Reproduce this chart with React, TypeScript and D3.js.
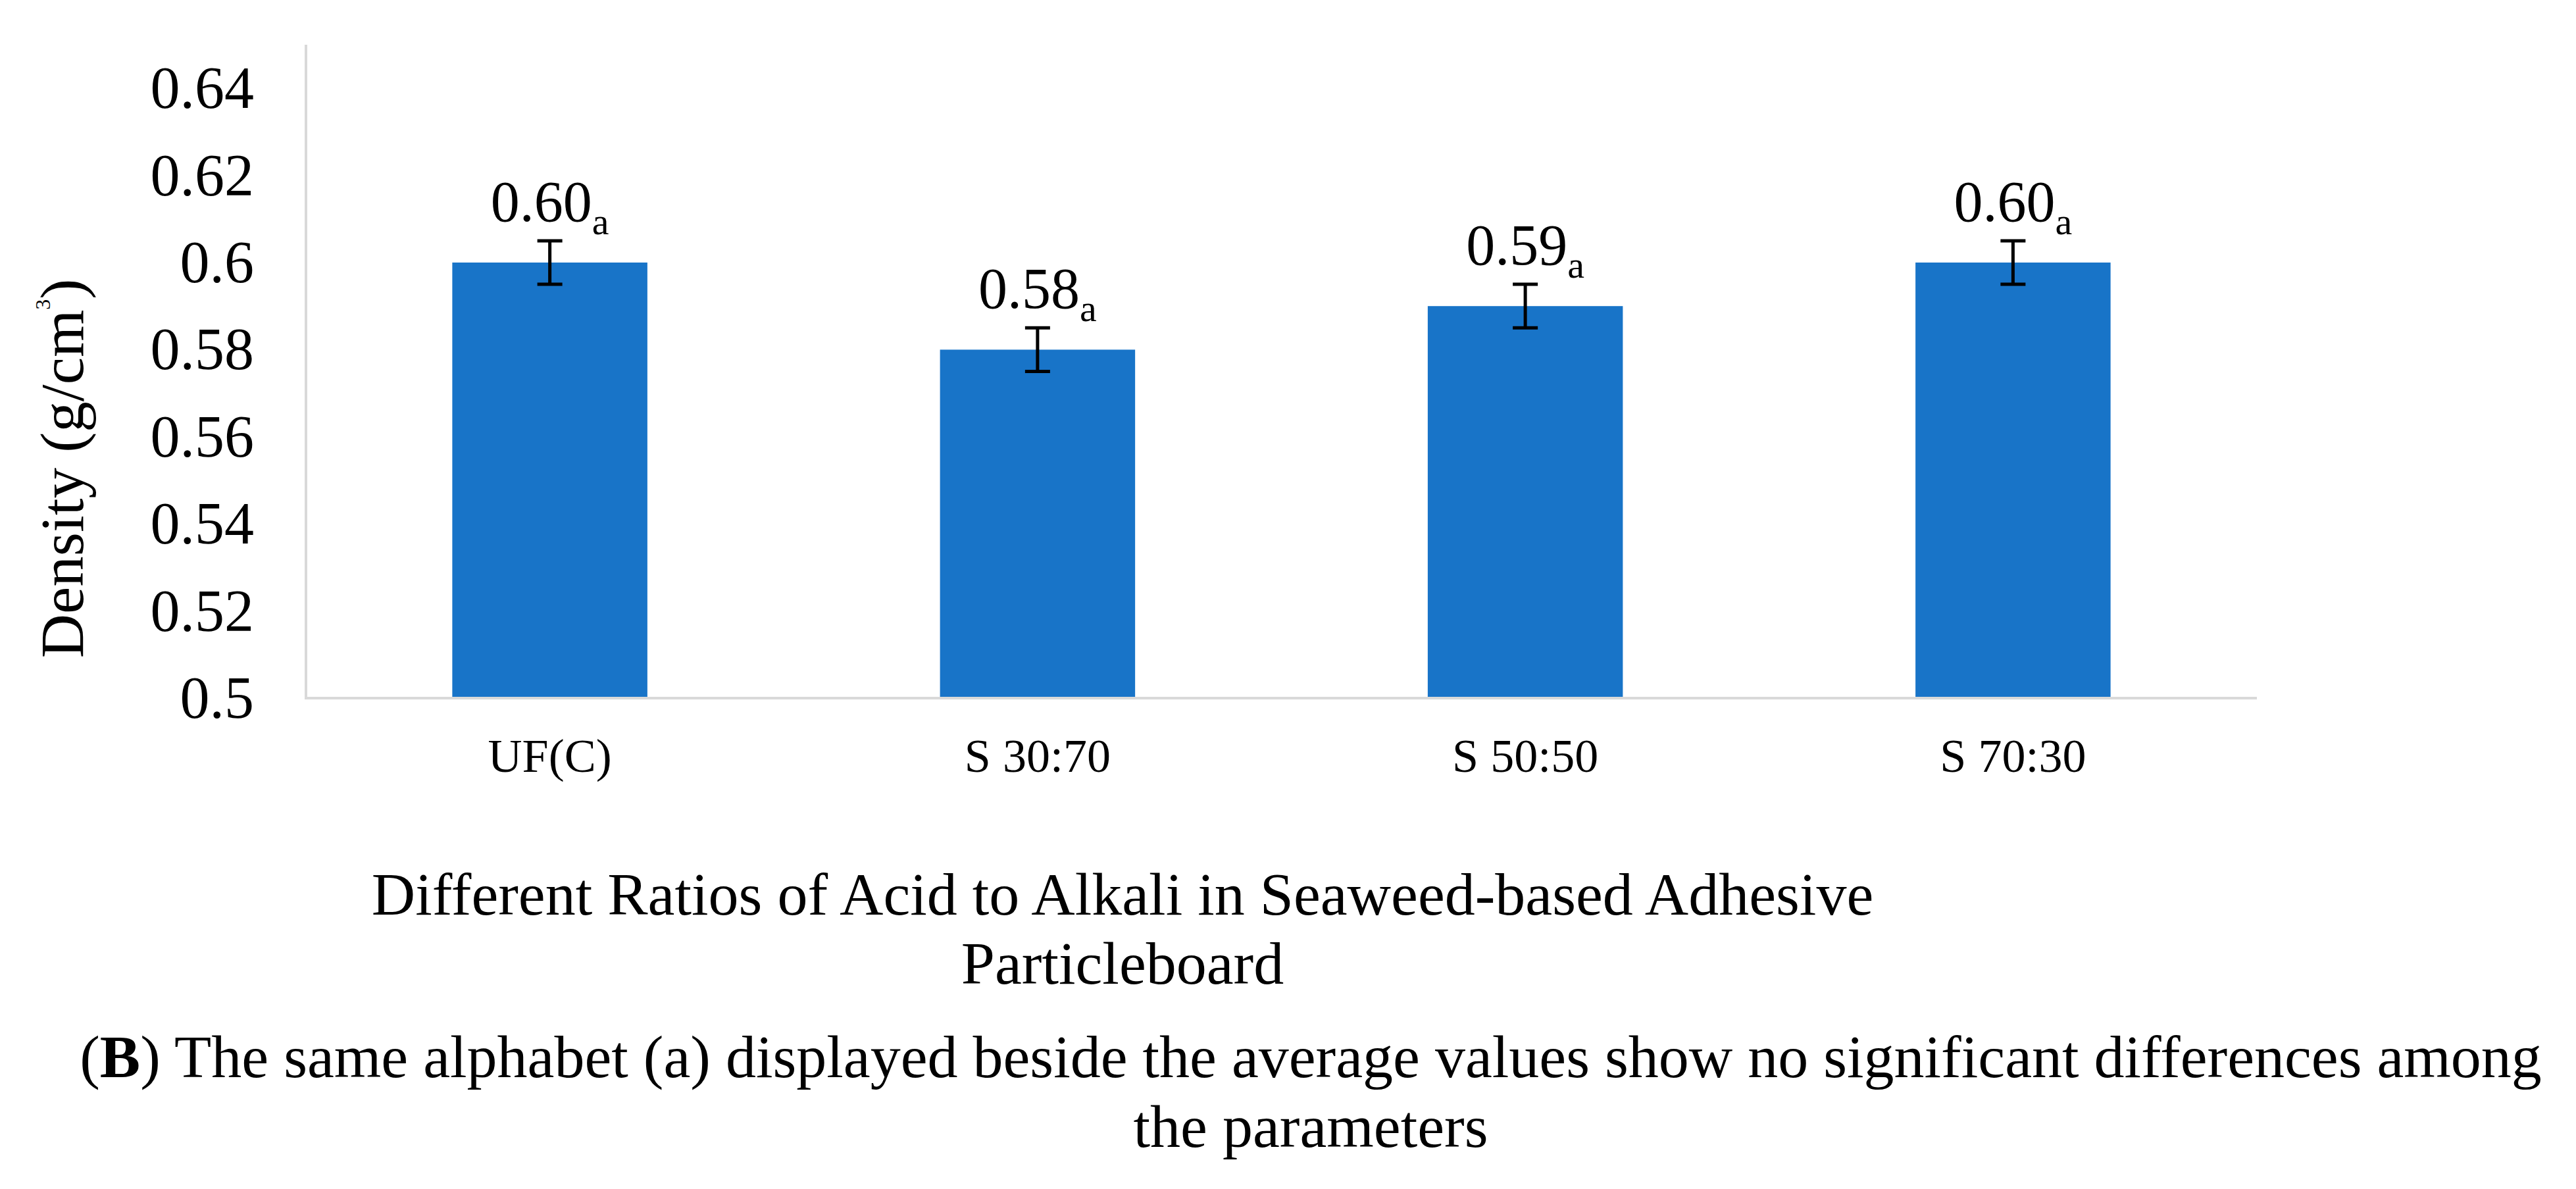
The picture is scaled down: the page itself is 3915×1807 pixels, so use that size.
import React, { useEffect, useRef } from 'react';
import * as d3 from 'd3';

// values
const categories = ['UF(C)', 'S 30:70', 'S 50:50', 'S 70:30'];
const density = [0.6, 0.58, 0.59, 0.6];
const errors = [0.005, 0.005, 0.005, 0.005];
const valueLabels = ['0.60', '0.58', '0.59', '0.60'];
const groupLetters = ['a', 'a', 'a', 'a'];
const yTicks = [0.5, 0.52, 0.54, 0.56, 0.58, 0.6, 0.62, 0.64];
const xTitleLines = ['Different Ratios of Acid to Alkali in Seaweed-based Adhesive', 'Particleboard'];
const captionRest = ' The same alphabet (a) displayed beside the average values show no significant differences among';
const captionLine2 = 'the parameters';

const FONT = '"Liberation Serif", "Times New Roman", serif';

const App: React.FC = () => {
  const svgRef = useRef<SVGSVGElement | null>(null);
  const width = 3915;
  const height = 1807;

  useEffect(() => {
    if (!svgRef.current) return;
    const svg = d3.select(svgRef.current);
    svg.selectAll('*').remove();

    const plot = { left: 465, right: 3430, top: 68, bottom: 1061 };

    const x = d3.scaleBand<string>()
      .domain(categories)
      .range([plot.left, plot.right])
      .paddingInner(0.6)
      .paddingOuter(0.3);

    const y = d3.scaleLinear()
      .domain([0.5, 0.65])
      .range([plot.bottom, plot.top]);

    svg.append('rect').attr('width', width).attr('height', height).attr('fill', '#fff');

    const g = svg.append('g').style('font-family', FONT).attr('fill', '#000');

    // y axis line (light grey, Excel style)
    g.append('line')
      .attr('x1', plot.left).attr('x2', plot.left)
      .attr('y1', plot.top).attr('y2', plot.bottom)
      .attr('stroke', '#d9d9d9').attr('stroke-width', 4);

    // y tick labels
    g.selectAll('text.ytick')
      .data(yTicks)
      .enter()
      .append('text')
      .attr('class', 'ytick')
      .attr('x', 386)
      .attr('y', d => y(d) + 30)
      .attr('text-anchor', 'end')
      .style('font-size', '90px')
      .text(d => String(d));

    const data = categories.map((c, i) => ({
      cat: c, v: density[i], err: errors[i], label: valueLabels[i], letter: groupLetters[i],
    }));

    // bars
    g.selectAll('rect.bar')
      .data(data)
      .enter()
      .append('rect')
      .attr('class', 'bar')
      .attr('x', d => x(d.cat) || 0)
      .attr('y', d => y(d.v))
      .attr('width', x.bandwidth())
      .attr('height', d => y(0.5) - y(d.v))
      .attr('fill', '#1874C8');

    g.append('line')
      .attr('x1', plot.left - 2).attr('x2', plot.right)
      .attr('y1', plot.bottom).attr('y2', plot.bottom)
      .attr('stroke', '#d9d9d9').attr('stroke-width', 4);

    // error bars
    const eb = g.selectAll('g.err')
      .data(data)
      .enter()
      .append('g')
      .attr('class', 'err')
      .attr('stroke', '#000')
      .attr('stroke-width', 5);
    const cx = (d: { cat: string }) => (x(d.cat) || 0) + x.bandwidth() / 2;
    eb.append('line')
      .attr('x1', cx).attr('x2', cx)
      .attr('y1', d => y(d.v + d.err)).attr('y2', d => y(d.v - d.err));
    eb.append('line')
      .attr('x1', d => cx(d) - 19).attr('x2', d => cx(d) + 19)
      .attr('y1', d => y(d.v + d.err)).attr('y2', d => y(d.v + d.err));
    eb.append('line')
      .attr('x1', d => cx(d) - 19).attr('x2', d => cx(d) + 19)
      .attr('y1', d => y(d.v - d.err)).attr('y2', d => y(d.v - d.err));

    // value labels with subscript letter
    const lbl = g.selectAll('text.val')
      .data(data)
      .enter()
      .append('text')
      .attr('class', 'val')
      .attr('x', cx)
      .attr('y', d => y(d.v + d.err) - 30)
      .attr('text-anchor', 'middle')
      .style('font-size', '88px');
    lbl.append('tspan').text(d => d.label);
    lbl.append('tspan').attr('dy', 20).style('font-size', '58px').text(d => d.letter);

    // x category labels
    g.selectAll('text.xcat')
      .data(categories)
      .enter()
      .append('text')
      .attr('class', 'xcat')
      .attr('x', d => (x(d) || 0) + x.bandwidth() / 2)
      .attr('y', 1173)
      .attr('text-anchor', 'middle')
      .style('font-size', '72px')
      .text(d => d);

    // y axis title
    const yt = g.append('text')
      .attr('transform', 'translate(126,712) rotate(-90)')
      .attr('text-anchor', 'middle')
      .style('font-size', '93px');
    yt.append('tspan').text('Density (g/cm');
    yt.append('tspan').attr('dy', -50).style('font-size', '32px').text('3');
    yt.append('tspan').attr('dy', 50).text(')');

    // x axis title
    g.selectAll('text.xtitle')
      .data(xTitleLines)
      .enter()
      .append('text')
      .attr('class', 'xtitle')
      .attr('x', 1706)
      .attr('y', (_, i) => 1390 + i * 105)
      .attr('text-anchor', 'middle')
      .style('font-size', '92px')
      .text(d => d);

    // caption
    const cap = g.append('text')
      .attr('x', 1992).attr('y', 1637)
      .attr('text-anchor', 'middle')
      .style('font-size', '92px');
    cap.append('tspan').text('(');
    cap.append('tspan').style('font-weight', 'bold').text('B');
    cap.append('tspan').text(')' + captionRest);
    g.append('text')
      .attr('x', 1992).attr('y', 1743)
      .attr('text-anchor', 'middle')
      .style('font-size', '92px')
      .text(captionLine2);
  }, []);

  return (
    <div style={{ position: 'absolute', left: 0, top: 0 }}>
      <svg ref={svgRef} width={width} height={height} style={{ display: 'block' }} />
    </div>
  );
};

export default App;
